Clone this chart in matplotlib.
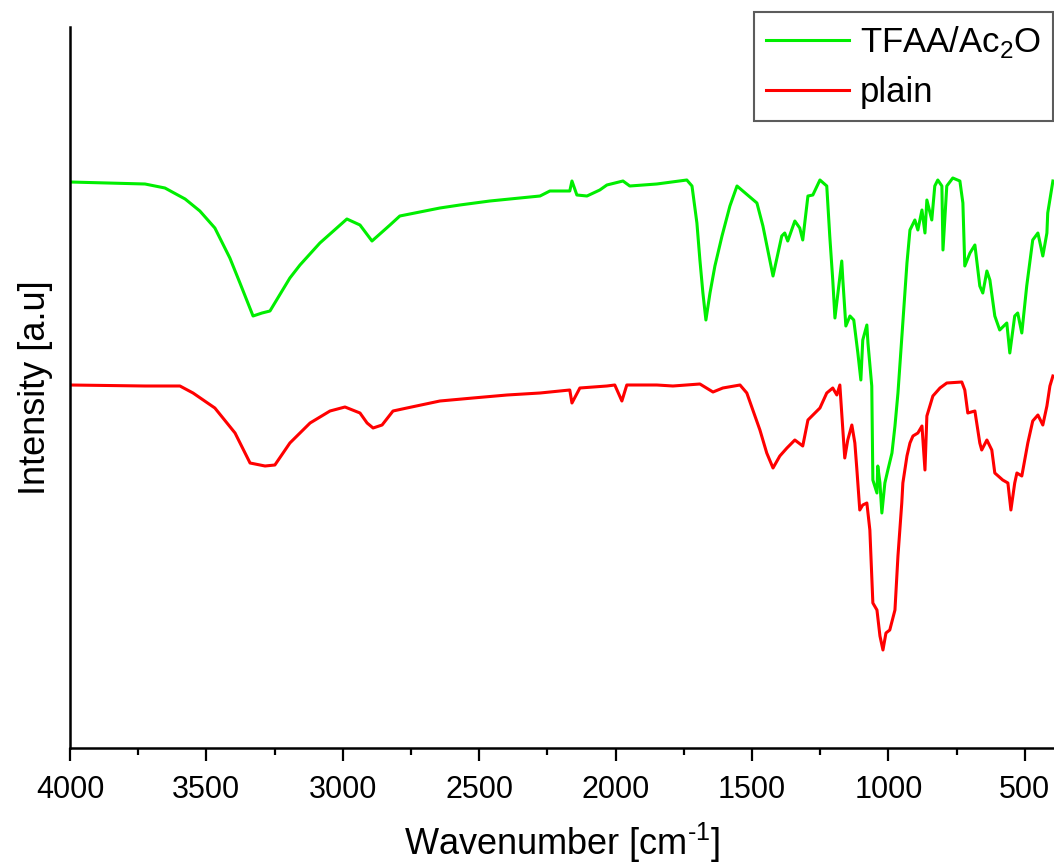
import numpy as np
import matplotlib
matplotlib.use('Agg')
import matplotlib.pyplot as plt

plt.rcParams['font.family'] = ['Liberation Sans', 'DejaVu Sans']
plt.rcParams['mathtext.fontset'] = 'custom'
plt.rcParams['mathtext.rm'] = 'Liberation Sans'

# TFAA/Ac2O spectrum (wavenumber, intensity a.u.)
wn_tfaa = [4000, 3725, 3652, 3578, 3524, 3469, 3414, 3377, 3329, 3296, 3267, 3194,
           3157, 3084, 2985, 2937, 2893, 2827, 2791, 2644, 2571, 2461, 2351, 2277,
           2241, 2168, 2160, 2142, 2105, 2058, 2032, 1973, 1948, 1849, 1739, 1720,
           1702, 1691, 1680, 1669, 1654, 1636, 1610, 1581, 1555, 1482, 1460, 1423,
           1391, 1380, 1369, 1343, 1325, 1314, 1295, 1277, 1251, 1226, 1215, 1204,
           1196, 1185, 1171, 1167, 1156, 1141, 1127, 1112, 1101, 1094, 1079, 1075,
           1061, 1057, 1042, 1039, 1031, 1024, 1013, 1002, 987, 976, 965, 951,
           932, 921, 903, 892, 877, 866, 859, 841, 830, 819, 804, 800, 786, 764,
           738, 727, 720, 701, 683, 665, 654, 639, 628, 610, 592, 566, 555, 537,
           526, 511, 493, 471, 452, 434, 419, 416, 397]
int_tfaa = [5.66, 5.64, 5.60, 5.49, 5.37, 5.20, 4.90, 4.65, 4.32, 4.35, 4.37, 4.70,
            4.83, 5.05, 5.29, 5.23, 5.07, 5.23, 5.32, 5.40, 5.43, 5.47, 5.50, 5.52,
            5.57, 5.57, 5.67, 5.53, 5.52, 5.58, 5.63, 5.67, 5.62, 5.64, 5.68, 5.62,
            5.25, 4.88, 4.55, 4.28, 4.55, 4.82, 5.12, 5.42, 5.62, 5.45, 5.22, 4.72,
            5.12, 5.15, 5.07, 5.27, 5.20, 5.08, 5.52, 5.53, 5.68, 5.62, 5.12, 4.68,
            4.30, 4.55, 4.87, 4.68, 4.22, 4.32, 4.28, 3.95, 3.68, 4.08, 4.23, 4.05,
            3.62, 2.68, 2.55, 2.82, 2.65, 2.35, 2.65, 2.78, 2.95, 3.22, 3.55, 4.10,
            4.85, 5.18, 5.28, 5.18, 5.38, 5.15, 5.48, 5.28, 5.62, 5.68, 5.62, 4.98,
            5.62, 5.70, 5.67, 5.45, 4.82, 4.95, 5.03, 4.62, 4.55, 4.77, 4.68, 4.32,
            4.18, 4.25, 3.95, 4.32, 4.35, 4.15, 4.62, 5.08, 5.15, 4.92, 5.15, 5.35,
            5.67]

# plain spectrum
wn_plain = [4000, 3725, 3597, 3549, 3469, 3395, 3340, 3285, 3249, 3194, 3120, 3047,
            2992, 2937, 2911, 2889, 2856, 2816, 2765, 2644, 2523, 2398, 2277, 2168,
            2160, 2131, 2032, 2003, 1977, 1959, 1849, 1790, 1691, 1643, 1607, 1544,
            1519, 1497, 1471, 1446, 1423, 1398, 1372, 1343, 1314, 1295, 1251, 1226,
            1204, 1189, 1178, 1167, 1160, 1149, 1134, 1123, 1116, 1105, 1094, 1079,
            1068, 1057, 1042, 1031, 1020, 1009, 995, 976, 965, 951, 947, 932, 921,
            910, 892, 877, 866, 859, 837, 811, 786, 731, 720, 709, 683, 665, 658,
            639, 621, 610, 581, 562, 551, 537, 529, 511, 489, 471, 452, 434, 419,
            408, 397]
int_plain = [3.63, 3.62, 3.62, 3.55, 3.40, 3.15, 2.85, 2.82, 2.83, 3.05, 3.25, 3.37,
             3.41, 3.35, 3.25, 3.20, 3.23, 3.37, 3.40, 3.47, 3.50, 3.53, 3.55, 3.58,
             3.45, 3.60, 3.62, 3.63, 3.47, 3.63, 3.63, 3.62, 3.64, 3.56, 3.60, 3.63,
             3.55, 3.38, 3.18, 2.95, 2.80, 2.92, 3.00, 3.08, 3.02, 3.28, 3.40, 3.55,
             3.60, 3.53, 3.63, 3.18, 2.90, 3.08, 3.23, 3.05, 2.80, 2.38, 2.43, 2.45,
             2.18, 1.45, 1.38, 1.12, 0.98, 1.15, 1.18, 1.38, 1.92, 2.45, 2.65, 2.92,
             3.05, 3.12, 3.15, 3.22, 2.78, 3.32, 3.52, 3.60, 3.65, 3.66, 3.58, 3.35,
             3.37, 3.05, 2.98, 3.08, 2.98, 2.75, 2.68, 2.65, 2.38, 2.65, 2.75, 2.72,
             3.05, 3.27, 3.33, 3.23, 3.42, 3.62, 3.72]

fig = plt.figure(figsize=(10.54, 8.66), dpi=100)
ax = fig.add_axes([70/1054, 1 - 748/866, 1 - 70/1054, (748 - 27)/866])

ax.plot(wn_tfaa, int_tfaa, color='#00ee00', lw=2.2, label=r'TFAA/Ac$_2$O')
ax.plot(wn_plain, int_plain, color='#ff0000', lw=2.2, label='plain')

ax.set_xlim(4000, 393)
ax.set_ylim(0, 7.21)
ax.set_xticks([4000, 3500, 3000, 2500, 2000, 1500, 1000, 500])
ax.set_xticks([3750, 3250, 2750, 2250, 1750, 1250, 750], minor=True)
ax.set_yticks([])
ax.tick_params(axis='x', which='major', length=9.5, width=1.6, labelsize=22, pad=10)
ax.tick_params(axis='x', which='minor', length=5, width=1.6)
for s in ['top', 'right']:
    ax.spines[s].set_visible(False)
for s in ['left', 'bottom']:
    ax.spines[s].set_linewidth(1.8)

ax.set_xlabel(r'Wavenumber [cm$^{\text{-}1}$]', fontsize=26, labelpad=11)
ax.set_ylabel('Intensity [a.u]', fontsize=26, labelpad=12)

leg = ax.legend(loc='upper right', bbox_to_anchor=(1053/1054, 1 - 12/866),
                bbox_transform=fig.transFigure, borderaxespad=0, fontsize=25,
                fancybox=False, edgecolor='#333333', handlelength=2.4,
                handletextpad=0.3, borderpad=0.35, labelspacing=0.45)
leg.get_frame().set_linewidth(1.5)

fig.savefig('out.png', dpi=100)
